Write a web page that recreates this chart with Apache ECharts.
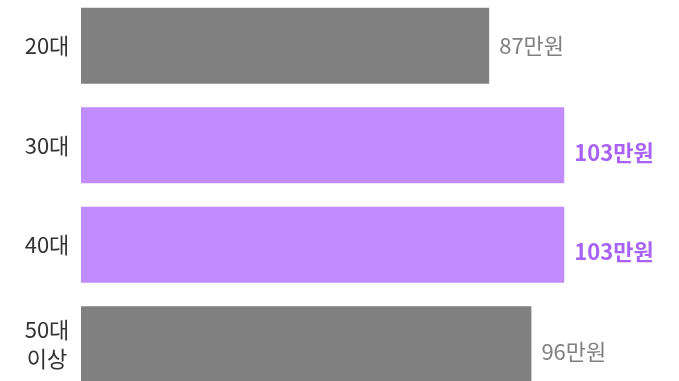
<!DOCTYPE html>
<html>
<head>
<meta charset="utf-8">
<script src="https://cdn.jsdelivr.net/npm/echarts@6/dist/echarts.min.js"></script>
<style>
  html, body { margin: 0; padding: 0; background: #fff; overflow: hidden; width: 679px; height: 381px; }
  #chart { position: absolute; left: 0; top: -4px; width: 679px; height: 398px; }
</style>
</head>
<body>
<div id="chart"></div>
<script>
// 연령대별 값 (만원)
const categories = ["20대", "30대", "40대", "50대\n이상"];
const values = [87, 103, 103, 96];
const highlighted = [false, true, true, false];

const grayBar = "#808080";
const purpleBar = "#c08cff";
const grayText = "#808080";
const purpleText = "#a862f5";

const chart = echarts.init(document.getElementById("chart"));

const seriesData = values.map((v, i) => ({
  value: v,
  itemStyle: { color: highlighted[i] ? purpleBar : grayBar },
  label: {
    color: highlighted[i] ? purpleText : grayText,
    fontWeight: highlighted[i] ? "bold" : "normal",
    offset: i === 0 ? [0, 0] : [0, 7],
  },
}));

chart.setOption({
  animation: false,
  grid: { left: 81, right: 35, top: 0, bottom: 0 },
  xAxis: {
    type: "value",
    min: 0,
    max: 120,
    show: false,
  },
  yAxis: {
    type: "category",
    inverse: true,
    data: categories,
    axisLine: { show: false },
    axisTick: { show: false },
    axisLabel: {
      align: "center",
      margin: 34,
      fontSize: 22,
      lineHeight: 29,
      color: "#333",
      fontFamily: "Noto Sans CJK KR",
    },
  },
  series: [
    {
      type: "bar",
      barWidth: 76,
      data: seriesData,
      label: {
        show: true,
        position: "right",
        distance: 10,
        fontSize: 22,
        fontFamily: "Noto Sans CJK KR",
        formatter: (p) => p.value + "만원",
      },
    },
  ],
});
</script>
</body>
</html>
